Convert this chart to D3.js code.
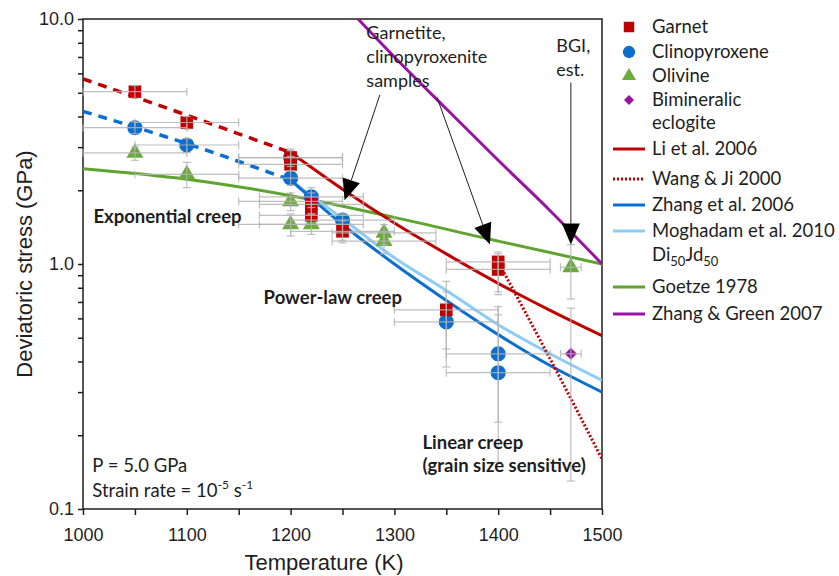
<!DOCTYPE html>
<html>
<head>
<meta charset="utf-8">
<script src="https://cdn.jsdelivr.net/npm/d3@7"></script>
<style>
  body { margin: 0; background: #fff; }
  svg { display: block; }
</style>
</head>
<body>
<div id="chart"></div>
<script>
// deviatoric stress vs temperature, P = 5 GPa

// tick values
const tempTicks = [1000, 1100, 1200, 1300, 1400, 1500];
const tempMinorTicks = [1000, 1050, 1100, 1150, 1200, 1250, 1300, 1350, 1400, 1450, 1500];
const stressLabels = [0.1, 1, 10];

// measurements: [T (K), stress (GPa), T error, stress low, stress high]
const garnet = [
  [1050, 5.05, 50, 4.75, 5.35],
  [1100, 3.78, 50, 3.55, 4.0],
  [1200, 2.72, 50, 2.5, 2.95],
  [1200, 2.55, 50, 2.4, 2.75],
  [1220, 1.75, 50, 1.6, 1.95],
  [1220, 1.58, 50, 1.45, 1.75],
  [1250, 1.36, 50, 1.22, 1.5],
  [1350, 0.65, 50, 0.45, 0.85],
  [1400, 1.02, 50, 0.77, 1.12],
  [1400, 0.95, 50, 0.75, 1.1]
];
const clinopyroxene = [
  [1050, 3.6, 50, 3.4, 3.8],
  [1100, 3.06, 50, 2.85, 3.25],
  [1200, 2.72, 50, 2.55, 2.9],
  [1200, 2.24, 50, 2.1, 2.4],
  [1220, 1.88, 50, 1.7, 2.05],
  [1250, 1.51, 50, 1.25, 1.6],
  [1350, 0.58, 50, 0.38, 0.77],
  [1400, 0.43, 50, 0.226, 0.67],
  [1400, 0.36, 50, 0.155, 0.62]
];
const olivine = [
  [1050, 2.84, 50, 2.65, 3.0],
  [1100, 2.32, 50, 2.05, 2.6],
  [1200, 1.8, 50, 1.65, 1.95],
  [1200, 1.45, 50, 1.3, 1.6],
  [1220, 1.45, 50, 1.32, 1.6],
  [1290, 1.34, 50, 1.2, 1.45],
  [1290, 1.24, 50, 1.1, 1.35],
  [1470, 0.97, 10, 0.72, 1.2]
];
const bimineralic = [
  [1470, 0.43, 10, 0.13, 0.66]
];

// flow laws: [T (K), stress (GPa)]
const liDashed = [[1000, 5.7], [1100, 4.05], [1200, 2.85]];
const li2006 = [[1200, 2.85], [1250, 2.02], [1300, 1.47], [1350, 1.1], [1400, 0.834], [1450, 0.647], [1500, 0.51]];
const wangJi2000 = [[1400, 1.02], [1450, 0.41], [1500, 0.16]];
const zhangDashed = [[1000, 4.2], [1100, 3.1], [1200, 2.2]];
const zhang2006 = [[1200, 2.2], [1250, 1.45], [1300, 1.0], [1350, 0.71], [1400, 0.515], [1450, 0.385], [1500, 0.30]];
const moghadam2010 = [[1200, 2.2], [1250, 1.53], [1300, 1.06], [1350, 0.78], [1400, 0.565], [1450, 0.43], [1500, 0.335]];
const goetze1978 = [[1000, 2.45], [1100, 2.22], [1200, 1.9], [1300, 1.55], [1400, 1.24], [1500, 1.0]];
const zhangGreen2007 = [[1265, 10], [1300, 7.0], [1350, 4.3], [1400, 2.65], [1450, 1.65], [1500, 1.0]];

const RED = '#c00000';
const BLUE = '#0a6fd0';
const LIGHTBLUE = '#8ccdf7';
const GREEN = '#5fa331';
const OLIVE_PT = '#6aab3c';
const PURPLE = '#9a12a4';
const BAR = '#b4b4b4';
const INK = '#1e1e1e';
const SANS = 'Lato, "Open Sans", sans-serif';
const ARIAL = '"Liberation Sans", Arial, sans-serif';

const W = 839, H = 576;
const margin = { top: 19, right: 237, bottom: 67, left: 83 };
const width = W - margin.left - margin.right;
const height = H - margin.top - margin.bottom;

const svg = d3.select('#chart').append('svg')
  .attr('width', W)
  .attr('height', H);

const g = svg.append('g').attr('transform', `translate(${margin.left},${margin.top})`);

const x = d3.scaleLinear().domain([1000, 1500]).range([0, width]);
const y = d3.scaleLog().domain([0.1, 10]).range([height, 0]);

// axes
const yMinor = [];
[0.1, 1].forEach(d => { for (let k = 1; k < 10; k++) yMinor.push(d * k); });
yMinor.push(10);

g.append('g')
  .attr('transform', `translate(0,${height})`)
  .call(d3.axisBottom(x).tickValues(tempMinorTicks).tickSize(6)
    .tickFormat(d => tempTicks.includes(d) ? d : ''))
  .call(a => a.select('.domain').remove())
  .call(a => a.selectAll('.tick line').attr('stroke', INK).attr('stroke-width', 1.5))
  .call(a => a.selectAll('.tick text').attr('fill', INK).attr('dy', '1.25em')
    .style('font-family', ARIAL).style('font-size', '18px'));

g.append('g')
  .call(d3.axisLeft(y).tickValues(yMinor).tickSize(5)
    .tickFormat(d => stressLabels.some(s => Math.abs(s - d) < 1e-9) ? d3.format('.1f')(d) : ''))
  .call(a => a.select('.domain').remove())
  .call(a => a.selectAll('.tick line').attr('stroke', INK).attr('stroke-width', 1.5))
  .call(a => a.selectAll('.tick text').attr('fill', INK).attr('x', -9)
    .style('font-family', ARIAL).style('font-size', '18px'));

g.append('rect')
  .attr('width', width).attr('height', height)
  .attr('fill', 'none').attr('stroke', INK).attr('stroke-width', 1.5);

svg.append('text')
  .attr('x', 324).attr('y', H - 6)
  .attr('text-anchor', 'middle')
  .style('font-family', ARIAL).style('font-size', '22px').attr('fill', INK)
  .text('Temperature (K)');

svg.append('text')
  .attr('transform', `translate(32,${margin.top + height / 2}) rotate(-90)`)
  .attr('text-anchor', 'middle')
  .style('font-family', ARIAL).style('font-size', '22px').attr('fill', INK)
  .text('Deviatoric stress (GPa)');

// clip for curves
svg.append('defs').append('clipPath').attr('id', 'plot-clip')
  .append('rect').attr('width', width).attr('height', height);

const line = d3.line().x(d => x(d[0])).y(d => y(d[1])).curve(d3.curveMonotoneX);
const curves = g.append('g').attr('clip-path', 'url(#plot-clip)');

function drawCurve(data, color, w, dash) {
  curves.append('path')
    .datum(data)
    .attr('d', line)
    .attr('fill', 'none')
    .attr('stroke', color)
    .attr('stroke-width', w)
    .attr('stroke-dasharray', dash || null);
}

drawCurve(goetze1978, GREEN, 3);
drawCurve(zhangGreen2007, PURPLE, 3);
drawCurve(liDashed, RED, 3.5, '9,7');
drawCurve(zhangDashed, BLUE, 3.5, '9,7');
drawCurve(li2006, RED, 3);
drawCurve(moghadam2010, LIGHTBLUE, 3);
drawCurve(zhang2006, BLUE, 3);
drawCurve(wangJi2000, RED, 3, '2,2');

// markers
const points = g.append('g');
const bars = g.append('g');

function drawPoints(data, symbol, size, color, rot) {
  points.selectAll(null)
    .data(data)
    .enter().append('path')
    .attr('d', d3.symbol().type(symbol).size(size))
    .attr('transform', d => `translate(${x(d[0])},${y(d[1])}) rotate(${rot || 0})`)
    .attr('fill', color);

  const cap = 4;
  data.forEach(d => {
    const cx = x(d[0]), cy = y(d[1]);
    const x0 = x(d[0] - d[2]), x1 = x(d[0] + d[2]);
    const y0 = y(d[3]), y1 = y(d[4]);
    const segs = [
      [x0, cy, x1, cy], [x0, cy - cap, x0, cy + cap], [x1, cy - cap, x1, cy + cap],
      [cx, y0, cx, y1], [cx - cap, y0, cx + cap, y0], [cx - cap, y1, cx + cap, y1]
    ];
    segs.forEach(s => {
      bars.append('line')
        .attr('x1', s[0]).attr('y1', s[1]).attr('x2', s[2]).attr('y2', s[3])
        .attr('stroke', BAR).attr('stroke-width', 1.2).attr('opacity', 0.85);
    });
  });
}

drawPoints(olivine, d3.symbolTriangle, 125, OLIVE_PT);
drawPoints(clinopyroxene, d3.symbolCircle, 180, BLUE);
drawPoints(garnet, d3.symbolSquare, 160, RED);
drawPoints(bimineralic, d3.symbolSquare, 72, PURPLE, 45);

// text annotations
function note(T, s, lines, opts) {
  const t = g.append('text')
    .attr('x', x(T)).attr('y', y(s))
    .style('font-family', SANS)
    .style('font-size', opts.size + 'px')
    .style('font-weight', opts.bold ? 700 : 400)
    .attr('fill', INK);
  lines.forEach((txt, i) => {
    t.append('tspan').attr('x', x(T)).attr('dy', i === 0 ? 0 : opts.lh).text(txt);
  });
  return t;
}

note(1010, 1.47, ['Exponential creep'], { size: 18.5, bold: true, lh: 0 });
note(1174, 0.687, ['Power-law creep'], { size: 18.5, bold: true, lh: 0 });
note(1327, 0.176, ['Linear creep', '(grain size sensitive)'], { size: 18.5, bold: true, lh: 23 });
note(1273, 8.28, ['Garnetite,', 'clinopyroxenite', 'samples'], { size: 18, bold: false, lh: 24 });
note(1456, 7.33, ['BGI,', 'est.'], { size: 18, bold: false, lh: 24 });

note(1009, 0.142, ['P = 5.0 GPa'], { size: 18.5, bold: false, lh: 0 });
const sr = note(1009, 0.1, [], { size: 18.5, bold: false, lh: 0 });
sr.attr('y', y(0.1) - 12);
sr.append('tspan').text('Strain rate = 10');
sr.append('tspan').attr('dy', -8).style('font-size', '12px').text('-5');
sr.append('tspan').attr('dy', 8).text(' s');
sr.append('tspan').attr('dy', -8).style('font-size', '12px').text('-1');

// arrows: [T0, s0, T1, s1]
const arrows = [
  [1286, 4.9, 1252, 1.82],
  [1341, 4.8, 1392, 1.2],
  [1470, 5.5, 1470, 1.2]
];
arrows.forEach(a => {
  const p0 = [x(a[0]), y(a[1])], p1 = [x(a[2]), y(a[3])];
  const ang = Math.atan2(p1[1] - p0[1], p1[0] - p0[0]);
  const len = 21, half = 9;
  const bx = p1[0] - len * Math.cos(ang), by = p1[1] - len * Math.sin(ang);
  g.append('line')
    .attr('x1', p0[0]).attr('y1', p0[1]).attr('x2', bx).attr('y2', by)
    .attr('stroke', INK).attr('stroke-width', 1);
  const px = -Math.sin(ang) * half, py = Math.cos(ang) * half;
  g.append('path')
    .attr('d', `M${p1[0]},${p1[1]}L${bx + px},${by + py}L${bx - px},${by - py}Z`)
    .attr('fill', '#000');
});

// legend
const legend = svg.append('g').attr('transform', 'translate(612,0)');
const legendItems = [
  { y: 27, sym: d3.symbolSquare, size: 110, color: RED, label: ['Garnet'] },
  { y: 52, sym: d3.symbolCircle, size: 120, color: BLUE, label: ['Clinopyroxene'] },
  { y: 76, sym: d3.symbolTriangle, size: 85, color: OLIVE_PT, label: ['Olivine'] },
  { y: 100, sym: d3.symbolSquare, size: 50, rot: 45, color: PURPLE, label: ['Bimineralic', 'eclogite'] },
  { y: 149, line: RED, label: ['Li et al. 2006'] },
  { y: 179, line: RED, dash: '2,2', label: ['Wang & Ji 2000'] },
  { y: 205, line: BLUE, label: ['Zhang et al. 2006'] },
  { y: 231, line: LIGHTBLUE, label: ['Moghadam et al. 2010'] },
  { y: 287, line: GREEN, label: ['Goetze 1978'] },
  { y: 314, line: PURPLE, label: ['Zhang & Green 2007'] }
];

legendItems.forEach(it => {
  if (it.sym) {
    legend.append('path')
      .attr('d', d3.symbol().type(it.sym).size(it.size))
      .attr('transform', `translate(17,${it.y}) rotate(${it.rot || 0})`)
      .attr('fill', it.color);
  } else {
    legend.append('line')
      .attr('x1', 1).attr('x2', 33).attr('y1', it.y).attr('y2', it.y)
      .attr('stroke', it.line).attr('stroke-width', 3)
      .attr('stroke-dasharray', it.dash || null);
  }
  it.label.forEach((txt, i) => {
    legend.append('text')
      .attr('x', 40).attr('y', it.y + 6 + i * 23)
      .style('font-family', SANS).style('font-size', '18.5px').attr('fill', INK)
      .text(txt);
  });
});

const di = legend.append('text')
  .attr('x', 40).attr('y', 261)
  .style('font-family', SANS).style('font-size', '18.5px').attr('fill', INK);
di.append('tspan').text('Di');
di.append('tspan').attr('dy', 5).style('font-size', '13px').text('50');
di.append('tspan').attr('dy', -5).text('Jd');
di.append('tspan').attr('dy', 5).style('font-size', '13px').text('50');
</script>
</body>
</html>
